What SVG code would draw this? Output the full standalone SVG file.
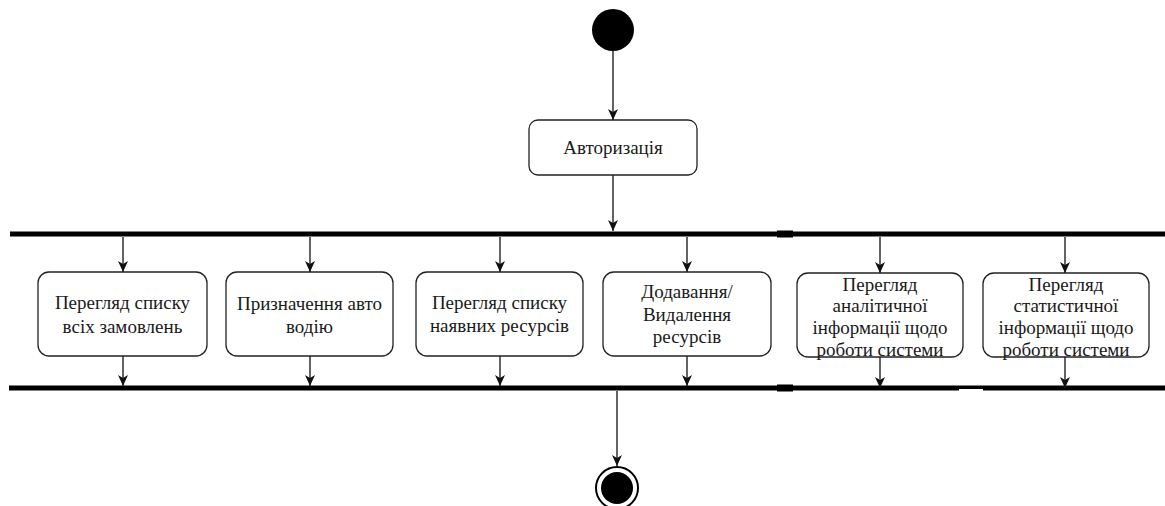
<svg xmlns="http://www.w3.org/2000/svg" width="1165" height="506" viewBox="0 0 1165 506">
  <style>
    .act { fill: #ffffff; stroke: #222222; stroke-width: 1.3; }
    .lbl { font-family: 'Liberation Serif', 'DejaVu Serif', serif; font-size: 19px; fill: #1a1a1a; text-anchor: middle; }
    .flow { stroke: #222222; stroke-width: 1.4; fill: none; marker-end: url(#arrow); }
    .bar { fill: #000000; }
  </style>
  <defs>
    <marker id="arrow" markerUnits="userSpaceOnUse" markerWidth="12" markerHeight="12" viewBox="0 0 12 12" refX="11" refY="6" orient="auto">
      <path d="M0,1 L11,6 L0,11 L3,6 z" fill="#111111"/>
    </marker>
  </defs>

  <rect width="1165" height="506" fill="#ffffff"/>

  <!-- start -->
  <g id="start">
    <circle cx="613" cy="30" r="21" fill="#000000"/>
  </g>

  <!-- login -->
  <g id="auth">
    <rect class="act" x="529" y="120" width="168" height="55" rx="9"/>
    <text class="lbl" x="613" y="154">Авторизація</text>
  </g>

  <!-- fork bar -->
  <g id="fork">
    <rect class="bar" x="10" y="231.5" width="1155" height="5"/>
    <rect class="bar" x="777" y="230.5" width="16" height="7"/>
  </g>

  <!-- parallel activities -->
  <g id="orders">
    <rect class="act" x="38" y="272" width="169" height="84" rx="11"/>
    <text class="lbl" x="122.5" y="309">Перегляд списку</text>
    <text class="lbl" x="122.5" y="333">всіх замовлень</text>
  </g>

  <g id="assign">
    <rect class="act" x="226" y="272" width="167" height="84" rx="11"/>
    <text class="lbl" x="309.5" y="310">Призначення авто</text>
    <text class="lbl" x="309.5" y="333">водію</text>
  </g>

  <g id="resources">
    <rect class="act" x="416" y="272" width="167" height="84" rx="11"/>
    <text class="lbl" x="499.5" y="309">Перегляд списку</text>
    <text class="lbl" x="499.5" y="332">наявних ресурсів</text>
  </g>

  <g id="edit-resources">
    <rect class="act" x="603" y="272" width="168" height="84" rx="11"/>
    <text class="lbl" x="687" y="298">Додавання/</text>
    <text class="lbl" x="687" y="321">Видалення</text>
    <text class="lbl" x="687" y="343">ресурсів</text>
  </g>

  <g id="analytics">
    <rect class="act" x="797" y="273" width="166" height="84" rx="11"/>
    <text class="lbl" x="880" y="291">Перегляд</text>
    <text class="lbl" x="880" y="312">аналітичної</text>
    <text class="lbl" x="880" y="334">інформації щодо</text>
    <text class="lbl" x="880" y="356">роботи системи</text>
  </g>

  <g id="statistics">
    <rect class="act" x="983" y="273" width="166" height="84" rx="11"/>
    <text class="lbl" x="1066" y="291">Перегляд</text>
    <text class="lbl" x="1066" y="312">статистичної</text>
    <text class="lbl" x="1066" y="334">інформації щодо</text>
    <text class="lbl" x="1066" y="356">роботи системи</text>
  </g>

  <!-- join bar -->
  <g id="join">
    <rect class="bar" x="9" y="385.5" width="950" height="5"/>
    <rect class="bar" x="959" y="385.5" width="24" height="3.5"/>
    <rect class="bar" x="983" y="385.5" width="182" height="5"/>
    <rect class="bar" x="777" y="384.5" width="16" height="7"/>
  </g>

  <!-- end -->
  <g id="end">
    <circle cx="617" cy="488" r="21" fill="#ffffff" stroke="#000000" stroke-width="2"/>
    <circle cx="617" cy="488" r="16" fill="#000000"/>
  </g>

  <!-- connectors -->
  <g id="connectors">
    <line class="flow" x1="613" y1="51" x2="613" y2="120"/>
    <line class="flow" x1="613" y1="175" x2="613" y2="231"/>
    <line class="flow" x1="123" y1="237" x2="123" y2="272"/>
    <line class="flow" x1="310" y1="237" x2="310" y2="272"/>
    <line class="flow" x1="500" y1="237" x2="500" y2="272"/>
    <line class="flow" x1="687" y1="237" x2="687" y2="272"/>
    <line class="flow" x1="880" y1="237" x2="880" y2="273"/>
    <line class="flow" x1="1065" y1="237" x2="1065" y2="273"/>
    <line class="flow" x1="123" y1="356" x2="123" y2="386"/>
    <line class="flow" x1="310" y1="356" x2="310" y2="386"/>
    <line class="flow" x1="500" y1="356" x2="500" y2="386"/>
    <line class="flow" x1="687" y1="356" x2="687" y2="386"/>
    <line class="flow" x1="880" y1="357" x2="880" y2="388"/>
    <line class="flow" x1="1065" y1="357" x2="1065" y2="388"/>
    <line class="flow" x1="617" y1="391" x2="617" y2="466"/>
  </g>
</svg>
